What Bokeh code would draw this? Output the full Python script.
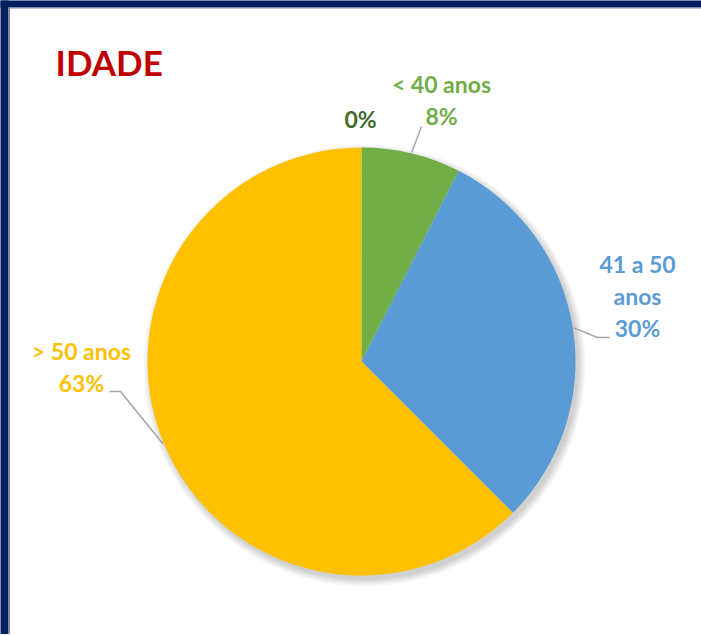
import math
from bokeh.plotting import figure
from bokeh.models import Range1d, ColumnDataSource
from bokeh.core.properties import value
from bokeh.embed import file_html
from bokeh.resources import INLINE

# ---- data ----
categories = ["< 40 anos", "41 a 50 anos", "> 50 anos", ""]
shares = [7.5, 30.0, 62.5, 0.0]          # percent
colors = ["#70AD47", "#5B9BD5", "#FFC000", "#375623"]
label_colors = ["#70AD47", "#5B9BD5", "#FFC000", "#446B2C"]
title_text = "IDADE"

# ---- layout (px coords, y up; x=0 at inner edge of left frame) ----
W, H = 701, 634
X0 = -8
Y_TOP = 629          # inner edge of top frame
Y_MAX = 636
CX, CY, R = 353, 275, 214
FONT = "Lato"
FS = "23px"
TXT_SHIFT = 9
label_layout = [
    (["< 40 anos"], 433, 544),
    (["41 a 50", "anos"], 629, 364),
    (["> 50 anos"], 73, 277),
    ([], 352, 509),
]
LINE_H = 32
leader_pts = [
    [(413, 510)],
    [(589, 299), (601, 299)],
    [(112, 245), (101, 245)],
    None,
]

p = figure(width=W, height=H, output_backend="svg", toolbar_location=None,
           x_range=Range1d(X0, X0 + W), y_range=Range1d(Y_MAX - H, Y_MAX),
           min_border=0, match_aspect=False)
p.min_border_left = 0
p.min_border_right = 0
p.min_border_top = 0
p.min_border_bottom = 0
p.axis.visible = False
p.grid.visible = False
p.outline_line_color = None
p.background_fill_color = "white"
p.border_fill_color = "white"

# navy frame: left and top bands drawn as plain rectangles
p.quad(left=[X0 - 5, X0 - 5], right=[0, X0 + W + 5],
       bottom=[Y_MAX - H - 5, Y_TOP], top=[Y_MAX + 5, Y_MAX + 5],
       fill_color="#00205F", line_color=None)
p.quad(left=[0, 0], right=[1.5, X0 + W + 5],
       bottom=[Y_MAX - H - 5, Y_TOP - 1], top=[Y_TOP, Y_TOP],
       fill_color="#7D8AA3", line_color=None)

# soft shadow
for i in range(8):
    p.circle(x=[CX + 3], y=[CY - 4], radius=R + i, fill_color="black",
             fill_alpha=0.022, line_color=None)

# wedges
total = sum(shares)
starts, ends = [], []
cum = 0.0
for s in shares:
    a0 = math.pi / 2 - 2 * math.pi * cum / total
    cum += s
    a1 = math.pi / 2 - 2 * math.pi * cum / total
    starts.append(a0)
    ends.append(a1)
keep = [i for i, s in enumerate(shares) if s > 0]
src = ColumnDataSource(dict(start=[starts[i] for i in keep],
                            end=[ends[i] for i in keep],
                            color=[colors[i] for i in keep],
                            cat=[categories[i] for i in keep]))
p.wedge(x=CX, y=CY, radius=R, start_angle="start", end_angle="end",
        direction="clock", fill_color="color", line_color=None, source=src)

# leader lines from slice mid-angle on edge
for i, pts in enumerate(leader_pts):
    if not pts:
        continue
    mid = (starts[i] + ends[i]) / 2
    ex = CX + (R + 1) * math.cos(mid)
    ey = CY + (R + 1) * math.sin(mid)
    xs = [ex] + [q[0] for q in pts]
    ys = [ey] + [q[1] for q in pts]
    p.line(xs, ys, line_color="#A6A6A6", line_width=1.5)

# labels
for i, (lines, lx, ly) in enumerate(label_layout):
    pct = "%d%%" % math.floor(shares[i] + 0.5)
    all_lines = list(lines) + [pct]
    for k, t in enumerate(all_lines):
        p.text(x=[lx], y=[ly + TXT_SHIFT - k * LINE_H], text=[t], text_align="center",
               text_baseline="alphabetic", text_font=value(FONT),
               text_font_style="bold", text_font_size=FS,
               text_color=label_colors[i])

# title
p.text(x=[47], y=[575], text=[title_text], text_align="left",
       text_baseline="alphabetic", text_font=value(FONT),
       text_font_style="bold", text_font_size="35px", text_color="#C00000")

open("out.html", "w").write(file_html(p, INLINE))
